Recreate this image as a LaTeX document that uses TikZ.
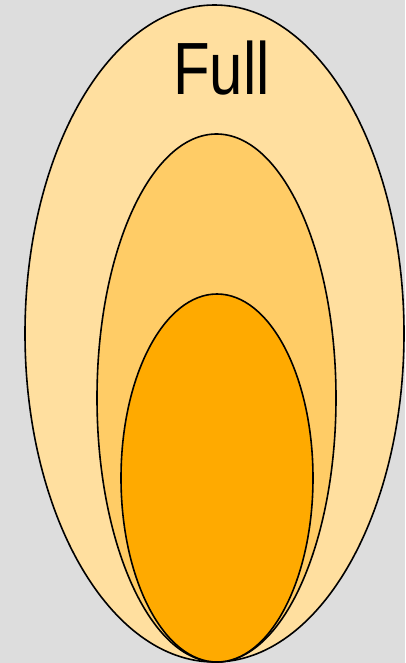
\documentclass[tikz,border=0pt]{standalone}
\usepackage{fontspec}
\setmainfont{Liberation Sans}
\definecolor{bg}{HTML}{DDDDDD}
\definecolor{outerc}{HTML}{FFDF9F}
\definecolor{midc}{HTML}{FFCC66}
\definecolor{innerc}{HTML}{FFAA00}
\begin{document}
\begin{tikzpicture}[x=1pt,y=-1pt,
  ell/.style={draw=black,line width=1.6pt}]
\fill[bg] (0,0) rectangle (405,663);
\useasboundingbox (0,0) rectangle (405,663);
\filldraw[ell,fill=outerc] (214.5,333.5) ellipse [x radius=189.5, y radius=328.5];
\filldraw[ell,fill=midc] (216.5,398) ellipse [x radius=119.5, y radius=264];
\filldraw[ell,fill=innerc] (217,478) ellipse [x radius=96, y radius=184];
\node[font=\fontsize{74}{80}\selectfont, inner sep=0pt, anchor=base, xscale=0.81, transform shape] (full) at (221.5,95) {Full};
\end{tikzpicture}
\end{document}
